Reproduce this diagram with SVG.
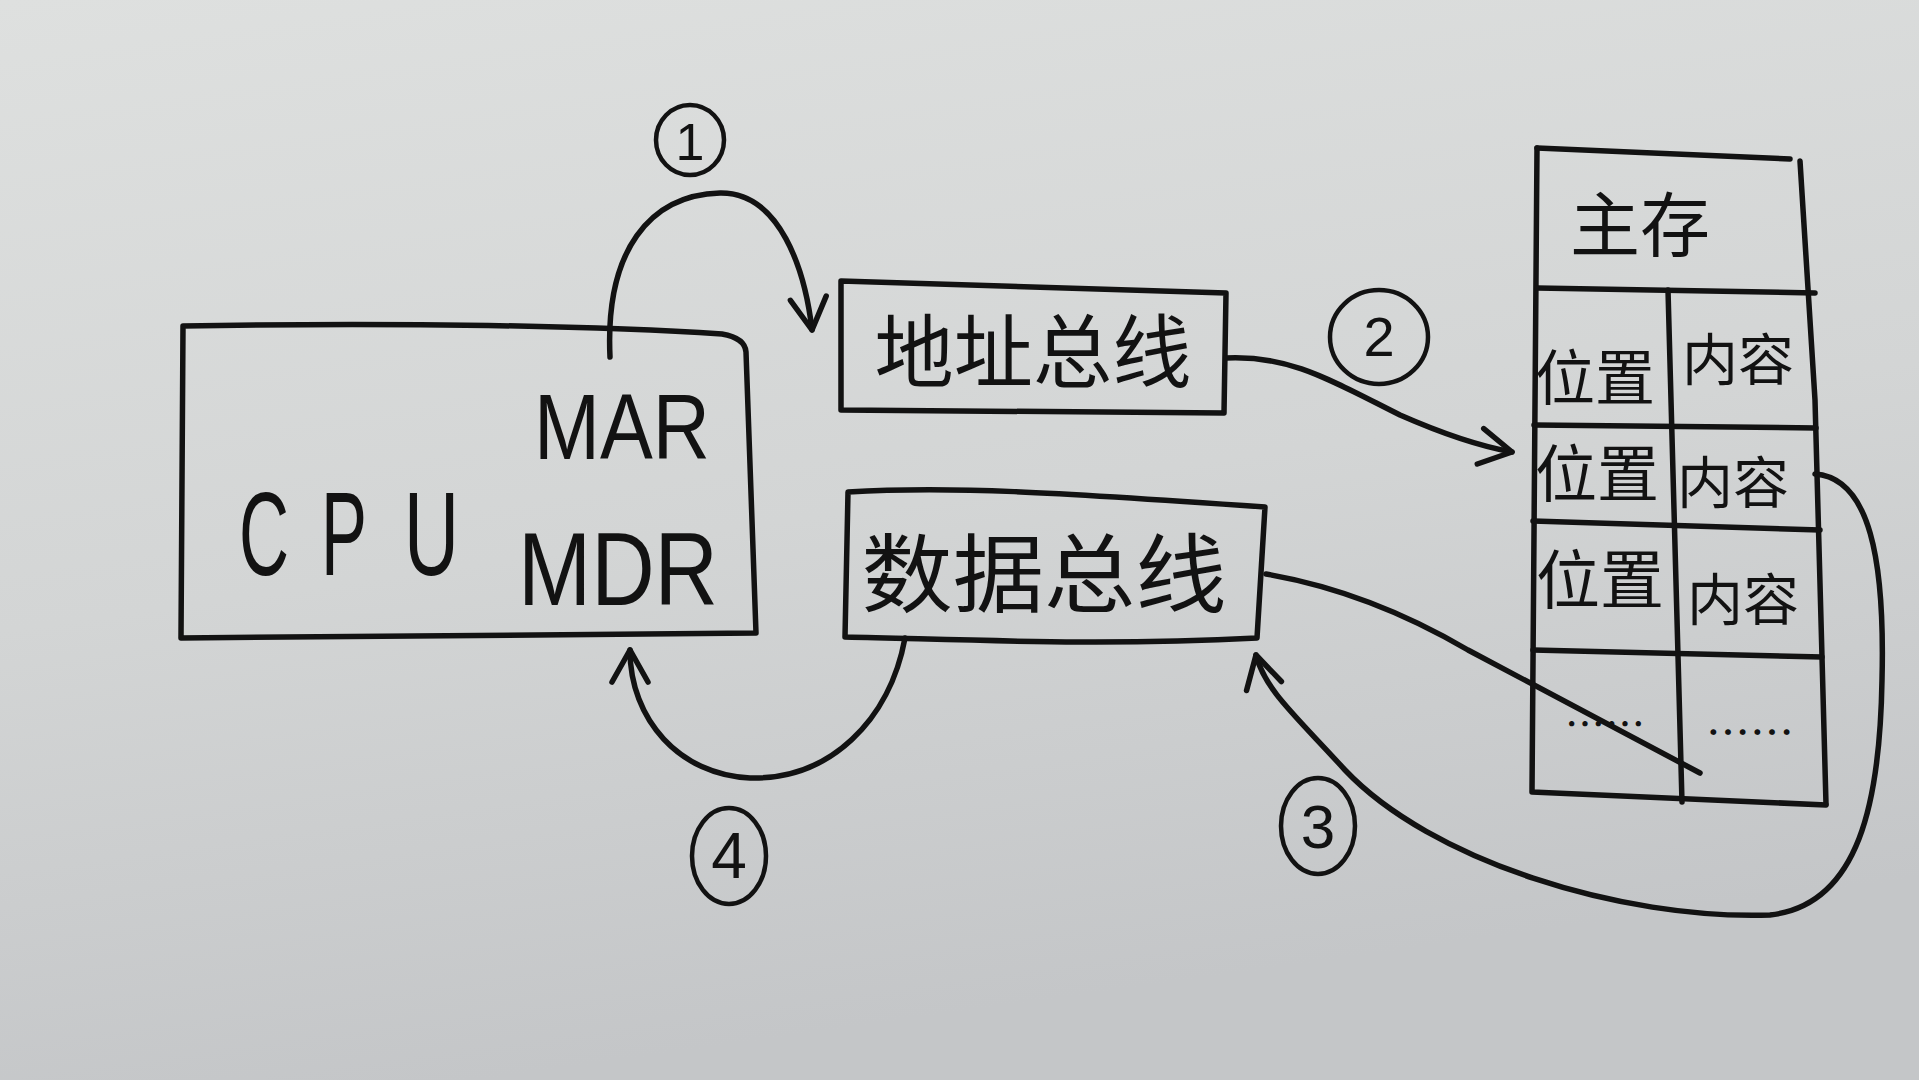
<svg xmlns="http://www.w3.org/2000/svg" width="1919" height="1080" viewBox="0 0 1919 1080">
  <defs>
    <linearGradient id="paper" x1="0" y1="0" x2="0.25" y2="1">
      <stop offset="0" stop-color="#dee0df"/>
      <stop offset="0.55" stop-color="#d3d5d5"/>
      <stop offset="1" stop-color="#c4c6c8"/>
    </linearGradient>
    <marker id="arrow" markerUnits="userSpaceOnUse" markerWidth="40" markerHeight="40" refX="0" refY="0" orient="auto" overflow="visible">
      <path d="M -32 -18 L 0 0 L -32 18" fill="none" stroke="#121212" stroke-width="5.5" stroke-linecap="round" stroke-linejoin="round"/>
    </marker>
    <style>
      .ink { fill: none; stroke: #121212; stroke-width: 5.5; stroke-linecap: round; stroke-linejoin: round; }
      .thin { fill: none; stroke: #121212; stroke-width: 4.5; stroke-linecap: round; }
      .latin { font-family: "Liberation Sans", "DejaVu Sans", sans-serif; fill: #121212; }
      .cjk { font-family: "Noto Sans CJK SC", "Noto Sans CJK TC", sans-serif; fill: #121212; text-anchor: middle; dominant-baseline: central; }
      .num { font-family: "Liberation Sans", "DejaVu Sans", sans-serif; fill: #121212; text-anchor: middle; dominant-baseline: central; }
    </style>
  </defs>

  <rect x="0" y="0" width="1919" height="1080" fill="url(#paper)"/>

  <!-- CPU -->
  <g id="cpu">
    <path class="ink" d="M 183 326 C 400 322 600 326 722 334 Q 745 338 746 352 L 756 633 L 181 638 Z"/>
    <text class="latin" y="575" font-size="118"><tspan x="239" textLength="50" lengthAdjust="spacingAndGlyphs">C</tspan><tspan x="321" textLength="46" lengthAdjust="spacingAndGlyphs">P</tspan><tspan x="404" textLength="55" lengthAdjust="spacingAndGlyphs">U</tspan></text>
    <text class="latin" x="534" y="459" font-size="92" textLength="176" lengthAdjust="spacingAndGlyphs">MAR</text>
    <text class="latin" x="518" y="605" font-size="104" textLength="200" lengthAdjust="spacingAndGlyphs">MDR</text>
  </g>

  <!-- Address bus -->
  <g id="address-bus">
    <path class="ink" d="M 841 281 L 1226 293 L 1224 413 L 841 410 Z"/>
    <text class="cjk" x="1033" y="346" font-size="80" textLength="317" lengthAdjust="spacingAndGlyphs">地址总线</text>
  </g>

  <!-- Data bus -->
  <g id="data-bus">
    <path class="ink" d="M 848 492 C 950 486 1050 492 1265 507 L 1257 638 C 1100 646 980 640 845 637 Z"/>
    <text class="cjk" x="1044" y="568" font-size="86" textLength="365" lengthAdjust="spacingAndGlyphs">数据总线</text>
  </g>

  <!-- Main memory -->
  <g id="memory">
    <path class="ink" d="M 1537 148 L 1790 159"/>
    <path class="ink" d="M 1800 161 L 1815 400 L 1826 804"/>
    <path class="ink" d="M 1537 148 L 1532 792 L 1826 805"/>
    <path class="ink" d="M 1537 288 L 1815 293"/>
    <path class="ink" d="M 1534 425 L 1816 428"/>
    <path class="ink" d="M 1533 521 L 1820 530"/>
    <path class="ink" d="M 1533 650 L 1822 657"/>
    <path class="ink" d="M 1668 290 L 1682 802"/>
    <text class="cjk" x="1640" y="220" font-size="70">主存</text>
    <text class="cjk" x="1595" y="373" font-size="60">位置</text>
    <text class="cjk" x="1738" y="355" font-size="56">内容</text>
    <text class="cjk" x="1597" y="470" font-size="62">位置</text>
    <text class="cjk" x="1733" y="478" font-size="56">内容</text>
    <text class="cjk" x="1600" y="575" font-size="64">位置</text>
    <text class="cjk" x="1743" y="595" font-size="56">内容</text>
    <text class="cjk" x="1605" y="722" font-size="40">……</text>
    <text class="cjk" x="1750" y="730" font-size="44">……</text>
  </g>

  <!-- Step labels -->
  <g id="step-1">
    <ellipse class="thin" cx="690" cy="140" rx="34" ry="35"/>
    <text class="num" x="690" y="142" font-size="52">1</text>
  </g>
  <g id="step-2">
    <ellipse class="thin" cx="1379" cy="337" rx="49" ry="47"/>
    <text class="num" x="1379" y="336" font-size="56">2</text>
  </g>
  <g id="step-3">
    <ellipse class="thin" cx="1318" cy="826" rx="37" ry="48"/>
    <text class="num" x="1318" y="826" font-size="62">3</text>
  </g>
  <g id="step-4">
    <ellipse class="thin" cx="729" cy="856" rx="37" ry="48"/>
    <text class="num" x="729" y="856" font-size="64">4</text>
  </g>

  <!-- Connectors -->
  <g id="connectors">
    <path class="ink" marker-end="url(#arrow)" d="M 610 357 C 605 250 650 195 720 193 C 780 192 805 270 812 330"/>
    <path class="ink" marker-end="url(#arrow)" d="M 1226 358 C 1290 355 1330 380 1400 415 C 1450 437 1490 448 1512 452"/>
    <path class="ink" d="M 1266 574 C 1330 585 1400 610 1468 650 L 1700 773"/>
    <path class="ink" marker-end="url(#arrow)" d="M 1815 474 C 1870 478 1885 560 1882 680 C 1880 800 1860 905 1770 915 C 1620 920 1430 860 1345 770 C 1295 715 1265 690 1256 655"/>
    <path class="ink" marker-end="url(#arrow)" d="M 905 638 C 890 720 830 780 750 778 C 680 775 630 720 630 650"/>
  </g>
</svg>
